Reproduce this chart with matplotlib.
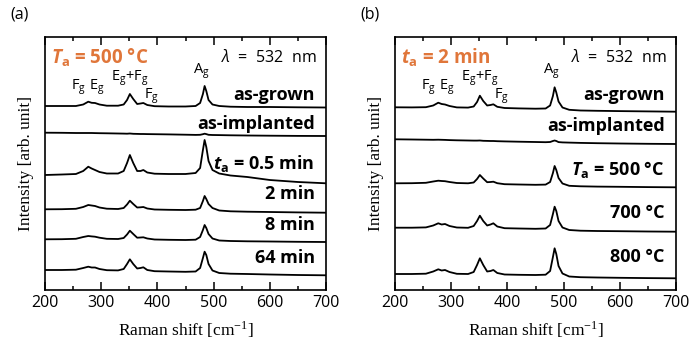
import matplotlib
matplotlib.use("Agg")
import matplotlib.pyplot as plt
from matplotlib.ticker import MultipleLocator

plt.rcParams['font.family'] = ['Open Sans', 'DejaVu Sans']
plt.rcParams['mathtext.fontset'] = 'custom'
plt.rcParams['mathtext.rm'] = 'Open Sans'
plt.rcParams['mathtext.it'] = 'Open Sans:italic'
plt.rcParams['mathtext.bf'] = 'Open Sans:bold'
plt.rcParams['mathtext.bfit'] = 'Open Sans:italic:bold'

ORANGE = '#E0763A'

# Raman shift grid (cm-1), denser around the phonon modes
raman_shift = [200, 230, 255, 268, 277, 283, 289, 297, 310, 330, 340, 346, 351, 357,
               364, 370, 375, 382, 395, 420, 450, 468, 476, 481, 484, 487, 491, 498,
               510, 530, 560, 600, 650, 700]

# (a) annealing at 500 C for different times (stacked, offset intensities)
a_as_grown = [184, 184, 184, 185.5, 188.3, 187.2, 187, 185.5, 184.3, 184.3, 185.5, 190, 196, 191,
              186, 186.5, 187, 185, 183.8, 183.5, 183.5, 184, 187, 196, 204, 199, 190, 185.5,
              184, 183.3, 183, 183, 182.7, 182.5]
a_as_implanted = [157.3, 157.2, 157, 157, 157, 157, 156.9, 156.8, 156.7, 156.5, 156.4, 156.3, 156.5, 156.2,
                  156.1, 156, 156, 155.9, 155.8, 155.6, 155.3, 155.1, 155.2, 155.8, 156.3, 155.9, 155.2, 155,
                  154.9, 154.7, 154.5, 154.3, 154.1, 154]
a_0p5min = [115, 115.5, 116, 119, 123.3, 121.5, 120, 118, 116.5, 116.5, 119, 127, 135, 127,
            119, 119, 120, 117.5, 116.3, 116, 116, 117, 122, 140, 150, 143, 129, 120,
            116.5, 114.5, 113, 110, 108, 106.7]
a_2min = [80.7, 80.8, 81.2, 83, 85, 84.5, 84, 82.5, 81.3, 81, 82, 85.5, 89.3, 86,
          82.5, 82.7, 83, 81.5, 80.5, 80.2, 80, 80.3, 82, 89, 94, 91, 86, 82,
          79.5, 78.7, 78.3, 78, 77.6, 77.3]
a_8min = [50.7, 50.8, 51.2, 53, 54, 53.6, 53.3, 52.3, 51.2, 51, 52, 55.5, 59.3, 56,
          52.3, 52.5, 52.7, 51.5, 50.5, 50.2, 50, 50.3, 53, 60, 65, 62, 56, 51.5,
          49.5, 49, 48.7, 48.5, 48.2, 48]
a_64min = [20, 20, 20.3, 22, 23.3, 22.5, 22.5, 21, 19.8, 19.6, 21, 26, 30.7, 26,
           21.5, 22, 22.7, 20, 18.8, 18.5, 18.2, 18.5, 22, 32, 38.3, 35, 26, 19.5,
           17, 16.3, 16, 15.5, 15, 14.7]

# (b) annealing for 2 min at different temperatures
b_as_grown = [182.7, 182.6, 182.8, 184.5, 187.3, 186, 185.5, 184, 182.6, 182.4, 183.5, 188, 194.3, 189,
              184.5, 185, 185.7, 183.2, 182, 181.6, 181.3, 181.5, 184.5, 194, 202.7, 197.5, 188.5, 182.5,
              180.2, 179.5, 179.2, 178.9, 178.6, 178.3]
b_as_implanted = [150.7, 150.5, 150.3, 150.2, 150.3, 150.2, 150.1, 149.9, 149.7, 149.5, 149.4, 149.4, 149.5, 149.2,
                  149.1, 149, 149, 148.8, 148.6, 148.3, 148, 147.8, 148, 149, 149.5, 149, 147.9, 147.6,
                  147.4, 147.1, 146.8, 146.5, 146.2, 146]
b_500C = [106.7, 106.8, 107.2, 108.5, 109.3, 109, 108.8, 108, 107, 106.7, 107.5, 111, 115, 111.5,
          107.8, 108, 108.3, 106.8, 105.8, 105.5, 105.2, 105.4, 108, 117, 124, 120, 112, 106.5,
          104.2, 103.7, 103.4, 103.2, 102.9, 102.7]
b_700C = [62.3, 62.3, 62.6, 64.5, 66.7, 65.5, 66, 64, 62.5, 62.2, 64, 69, 74.3, 69,
          64.5, 65.5, 66.7, 63.5, 61.8, 61.5, 61.2, 61.5, 65, 76, 83.3, 79, 69, 62.5,
          60, 59.3, 59, 58.8, 58.5, 58.3]
b_800C = [16, 16, 16.3, 18.5, 20.7, 19.5, 20, 18, 16.2, 16, 18, 25, 31.7, 25,
          18.5, 19, 20, 17, 15.5, 15.2, 15, 15.3, 19, 33, 41.7, 36, 24, 16.5,
          13.5, 12.8, 12.5, 12.2, 11.9, 11.7]

a_spectra = [a_as_grown, a_as_implanted, a_0p5min, a_2min, a_8min, a_64min]
a_labels = ['as-grown', 'as-implanted', r'$\mathbfit{t}_\mathbf{a}$ = 0.5 min',
            '2 min', '8 min', '64 min']
a_label_y = [195, 166, 127, 96, 65, 32]

b_spectra = [b_as_grown, b_as_implanted, b_500C, b_700C, b_800C]
b_labels = ['as-grown', 'as-implanted', r'$\mathbfit{T}_\mathbf{a}$ = 500 °C',
            '700 °C', '800 °C']
b_label_y = [195, 164, 120, 77, 33]

# phonon mode annotations: (text, x, y)
modes = [(r'F$_\mathregular{g}$', 260, 203), (r'E$_\mathregular{g}$', 292, 203),
         (r'E$_\mathregular{g}$+F$_\mathregular{g}$', 350, 212),
         (r'F$_\mathregular{g}$', 389, 194), (r'A$_\mathregular{g}$', 479, 219)]


def style_axes(ax):
    ax.set_xlim(200, 700)
    ax.set_ylim(0, 253)
    ax.xaxis.set_major_locator(MultipleLocator(100))
    ax.xaxis.set_minor_locator(MultipleLocator(50))
    ax.set_yticks([])
    ax.tick_params(which='both', direction='in', top=True, bottom=True, width=1.1, labelsize=11.5)
    ax.tick_params(which='major', length=6)
    ax.tick_params(which='minor', length=3)
    for s in ax.spines.values():
        s.set_linewidth(1.2)
    ax.set_xlabel(r'Raman shift [cm$^{\mathregular{-1}}$]', family='Liberation Serif', fontsize=12.5, labelpad=6)
    ax.set_ylabel('Intensity [arb. unit]', family='Liberation Serif', fontsize=12.5, labelpad=8)
    for text, x, y in modes:
        ax.text(x, y, text, ha='center', va='center', fontsize=10.5)
    ax.text(684, 233, r'$\mathit{\lambda}$  =  532  nm', ha='right', va='center', fontsize=11.5)


def draw_panel(ax, spectra, labels, label_y, condition, tag):
    for spec in spectra:
        ax.plot(raman_shift, spec, color='black', lw=1.3)
    for text, y in zip(labels, label_y):
        ax.text(680, y, text, ha='right', va='center', fontsize=13, fontweight='bold')
    ax.text(210, 233, condition, ha='left', va='center', fontsize=13.5,
            fontweight='bold', color=ORANGE)
    style_axes(ax)
    ax.text(-0.09, 1.087, tag, transform=ax.transAxes, ha='center', va='center', fontsize=11.5)


fig = plt.figure(figsize=(6.98, 3.47), dpi=100)
ax_a = fig.add_axes([45 / 698, 57 / 347, 281 / 698, 253 / 347])
ax_b = fig.add_axes([395 / 698, 57 / 347, 281 / 698, 253 / 347])

draw_panel(ax_a, a_spectra, a_labels, a_label_y,
           r'$\mathbfit{T}_\mathbf{a}$ = 500 °C', '(a)')
draw_panel(ax_b, b_spectra, b_labels, b_label_y,
           r'$\mathbfit{t}_\mathbf{a}$ = 2 min', '(b)')

fig.savefig('out.png', dpi=100)
